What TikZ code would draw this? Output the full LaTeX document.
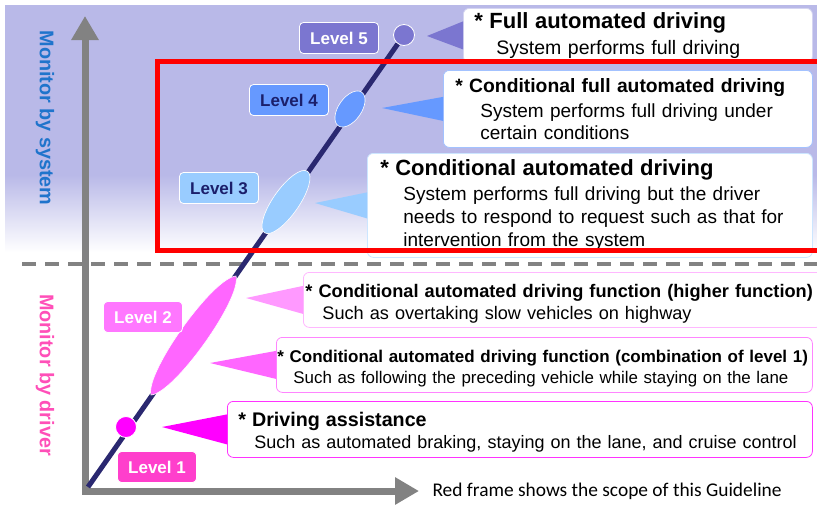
\documentclass[tikz,border=0pt]{standalone}
\usepackage{fontspec}
\setmainfont{Liberation Sans}
\newfontfamily\notefont{Carlito}
\usetikzlibrary{positioning}
\usetikzlibrary{shapes.geometric}
\usetikzlibrary{arrows.meta}
\usetikzlibrary{calc}

\definecolor{lavender}{HTML}{B9B9E8}
\definecolor{navyline}{HTML}{2A2870}
\definecolor{axisgray}{HTML}{828282}
\definecolor{lvfive}{HTML}{7B76D0}
\definecolor{lvfour}{HTML}{6699FF}
\definecolor{lvthree}{HTML}{99CCFF}
\definecolor{lvtwohi}{HTML}{FF99FF}
\definecolor{lvtwo}{HTML}{FF66FF}
\definecolor{lvone}{HTML}{FF00FF}
\definecolor{lvonelabel}{HTML}{FF3FCC}
\definecolor{lvtwolabel}{HTML}{FF77FF}
\definecolor{darktext}{HTML}{1B1F6B}
\definecolor{sysblue}{HTML}{1F74CC}
\definecolor{drvpink}{HTML}{FF4FB8}

\begin{document}
\begin{tikzpicture}[x=1pt,y=-1pt,
    lvlabel/.style={rounded corners=4pt, draw=white, line width=0.8pt, minimum width=79pt, minimum height=31pt, inner sep=0pt, font=\fontsize{17}{20}\selectfont\bfseries},
    lvdot/.style={circle, draw=white, line width=0.8pt, minimum size=21pt, inner sep=0pt},
    lvblob/.style={ellipse, draw=white, line width=0.6pt, inner sep=0pt, rotate=55},
    callout/.style={rounded corners=6pt, fill=white, line width=0.8pt, anchor=north west, align=left, inner ysep=0pt},
    sidetext/.style={rotate=-90, font=\fontsize{19.8}{22}\selectfont\bfseries}]
  \useasboundingbox (0,0) rectangle (817,504);
  \clip (0,0) rectangle (817,504);

  % background of the upper part
  \fill[lavender] (5,5) rectangle (817,175);
  \shade[top color=lavender, bottom color=white] (5,175) rectangle (817,252);

  % border between system and driver
  \draw[axisgray, line width=4pt, dash pattern=on 14pt off 9pt] (22,264) -- (817,264);

  % axes
  \coordinate (origin) at (85,491);
  \coordinate (ytop) at (85,16);
  \coordinate (xend) at (419,491);
  \draw[axisgray, line width=7pt, {Triangle[length=24pt,width=26pt]}-{Triangle[length=24pt,width=26pt]}] (ytop) -- (origin) -- (xend);

  \node[sidetext, text=sysblue] (sys) at (45,118) {Monitor by system};
  \node[sidetext, text=drvpink] (drv) at (45,375) {Monitor by driver};

  % the levels on the diagonal
  \coordinate (start) at (88,487);
  \node[lvdot, fill=lvfive] (l5) at (404,35) {};
  \draw[navyline, line width=5pt] (start) -- (l5);
  \node[lvblob, fill=lvfour, minimum width=41pt, minimum height=23pt] (l4) at (350,109) {};
  \node[lvblob, fill=lvthree, minimum width=75pt, minimum height=26pt] (l3) at (286,202) {};
  \coordinate (l2a) at (151,395);
  \coordinate (l2b) at (236,276);
  \filldraw[lvtwo, draw=white, line width=0.6pt] (l2a) .. controls ($(l2a)!0.1!(l2b)!18pt!90:(l2b)$) and ($(l2a)!0.9!(l2b)!18pt!90:(l2b)$) .. (l2b)
                     .. controls ($(l2a)!0.9!(l2b)!18pt!-90:(l2b)$) and ($(l2a)!0.1!(l2b)!18pt!-90:(l2b)$) .. (l2a) -- cycle;
  \node[lvdot, fill=lvone] (l1) at (126,427) {};

  \node[lvlabel, fill=lvfive, text=white] (lab5) at (339,38) {Level 5};
  \node[lvlabel, fill=lvfour, text=darktext] (lab4) at (289,100) {Level 4};
  \node[lvlabel, fill=lvthree, text=darktext] (lab3) at (219,188) {Level 3};
  \node[lvlabel, fill=lvtwolabel, text=white] (lab2) at (143,317) {Level 2};
  \node[lvlabel, fill=lvonelabel, text=white] (lab1) at (157,467) {Level 1};

  % tips of the callouts
  \coordinate (tip5) at (427,36);
  \coordinate (tip4) at (382,108);
  \coordinate (tip3) at (315,203);
  \coordinate (tip2h) at (246,298);
  \coordinate (tip2c) at (210,363);
  \coordinate (tip1) at (162,427);

  % description boxes
  \node[callout, draw=lavender!60, minimum height=54pt, text width=327pt, inner xsep=11pt, font=\fontsize{19.5}{26}\selectfont] (box5) at (463,8)
    {{\fontsize{22}{26}\selectfont\bfseries * Full automated driving}\\
     \hspace*{22pt}System performs full driving};
  \node[callout, draw=lvfour!60, minimum height=77pt, text width=345pt, inner xsep=12pt, font=\fontsize{19}{22}\selectfont] (box4) at (443,70)
    {{\fontsize{19.3}{22}\selectfont\bfseries * Conditional full automated driving}\\[3pt]
     \hspace*{25pt}System performs full driving under\\
     \hspace*{25pt}certain conditions};
  \node[callout, draw=lvthree!50, minimum height=104pt, text width=419pt, inner xsep=13pt, font=\fontsize{19}{23}\selectfont] (box3) at (367,153)
    {{\fontsize{22}{26}\selectfont\bfseries * Conditional automated driving}\\[2pt]
     \hspace*{23pt}System performs full driving but the driver\\
     \hspace*{23pt}needs to respond to request such as that for\\
     \hspace*{23pt}intervention from the system};
  \node[callout, draw=lvtwohi!70, minimum height=55pt, text width=515pt, inner xsep=2pt, font=\fontsize{18.15}{22}\selectfont] (box2h) at (303,272)
    {\rule{0pt}{20pt}{\fontsize{18.2}{22}\selectfont\bfseries * Conditional automated driving function (higher function)}\\
     \hspace*{17pt}Such as overtaking slow vehicles on highway};
  \node[callout, draw=lvtwo!80, minimum height=55pt, text width=534pt, inner xsep=1pt, font=\fontsize{16.9}{21}\selectfont] (box2c) at (276,337)
    {\rule{0pt}{19pt}{\fontsize{17}{21}\selectfont\bfseries * Conditional automated driving function (combination of level 1)}\\
     \hspace*{16pt}Such as following the preceding vehicle while staying on the lane};
  \node[callout, draw=lvone!80, minimum height=56pt, text width=563pt, inner xsep=11pt, font=\fontsize{18}{22.5}\selectfont] (box1) at (227,401)
    {\rule{0pt}{20pt}{\fontsize{19.7}{22}\selectfont\bfseries * Driving assistance}\\
     \hspace*{16pt}Such as automated braking, staying on the lane, and cruise control};

  % pointers from the boxes to the levels
  \fill[lvfive] (tip5) -- ($(box5.west)+(0,-14)$) -- ($(box5.west)+(0,14)$) -- cycle;
  \fill[lvfour] (tip4) -- ($(box4.west)+(0,-12)$) -- ($(box4.west)+(0,12)$) -- cycle;
  \fill[lvthree] (tip3) -- ($(box3.west)+(0,-13)$) -- ($(box3.west)+(0,13)$) -- cycle;
  \fill[lvtwohi] (tip2h) -- ($(box2h.west)+(0,-14)$) -- ($(box2h.west)+(0,14)$) -- cycle;
  \fill[lvtwo] (tip2c) -- ($(box2c.west)+(0,-14)$) -- ($(box2c.west)+(0,14)$) -- cycle;
  \fill[lvone] (tip1) -- ($(box1.west)+(0,-15)$) -- ($(box1.west)+(0,15)$) -- cycle;

  % scope of the guideline
  \draw[red, line width=5pt] (157,61) rectangle (824,250);

  \node[right=10pt of xend, font=\notefont\fontsize{19.4}{22}\selectfont] (note) {Red frame shows the scope of this Guideline};
\end{tikzpicture}
\end{document}
